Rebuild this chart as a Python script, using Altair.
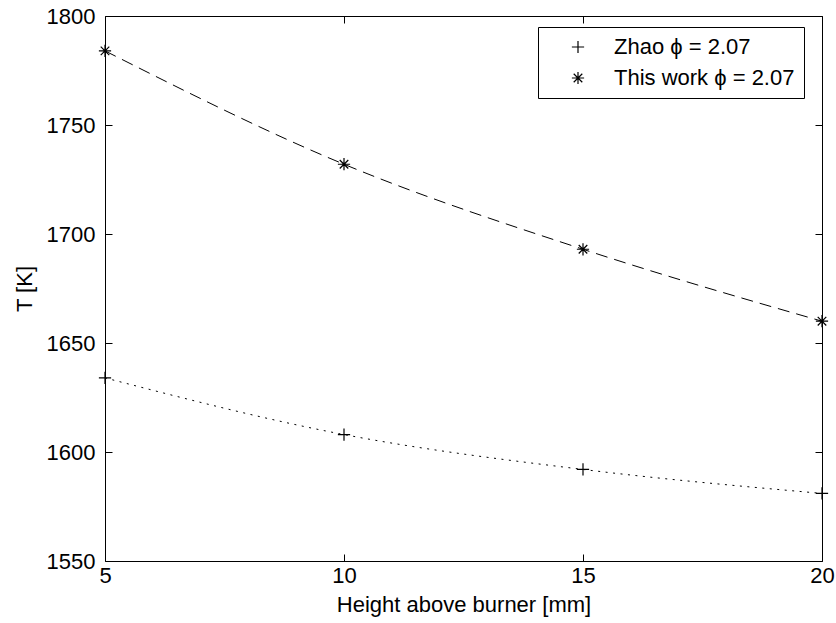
import altair as alt
import pandas as pd

heights = [5, 10, 15, 20]
zhao_T = [1634, 1608, 1592, 1581]
this_T = [1784, 1732, 1693, 1660]
series_names = ["Zhao \u03d5 = 2.07", "This work \u03d5 = 2.07"]

df = pd.DataFrame({
    "h": heights * 2,
    "T": zhao_T + this_T,
    "series": [series_names[0]] * 4 + [series_names[1]] * 4,
})

W, H = 717, 545
FONT = "Liberation Sans"

plus_path = "M-1,0L1,0M0,-1L0,1"
star_path = "M-1,0L1,0M0,-1L0,1M-0.7,-0.7L0.7,0.7M-0.7,0.7L0.7,-0.7"

xscale = alt.Scale(domain=[5, 20], nice=False, zero=False)
yscale = alt.Scale(domain=[1550, 1800], nice=False, zero=False)

xaxis = alt.Axis(values=heights, title="Height above burner [mm]", domain=False, ticks=False,
                 tickSize=0, labelPadding=4, titlePadding=8, grid=True, format="d",
                 gridColor="black", gridDash=[7, H - 14], gridWidth=1, gridOpacity=1,
                 labelFontSize=22, titleFontSize=22, labelColor="black", titleColor="black",
                 labelFont=FONT, titleFont=FONT, titleFontWeight="normal", labelFlush=False)
yaxis = alt.Axis(values=[1550, 1600, 1650, 1700, 1750, 1800], title="T [K]", domain=False,
                 ticks=False, tickSize=0, labelPadding=10, titlePadding=10, grid=True, format="d",
                 gridColor="black", gridDash=[7, W - 14], gridWidth=1, gridOpacity=1,
                 labelFontSize=22, titleFontSize=22, labelColor="black", titleColor="black",
                 labelFont=FONT, titleFont=FONT, titleFontWeight="normal", labelFlush=False)

base = alt.Chart(df)

line_zhao = base.transform_filter(alt.datum.series == series_names[0]).mark_line(
    color="black", strokeWidth=1, interpolate="monotone", strokeDash=[2, 5.5]
).encode(
    x=alt.X("h:Q", scale=xscale, axis=xaxis),
    y=alt.Y("T:Q", scale=yscale, axis=yaxis),
)

line_this = base.transform_filter(alt.datum.series == series_names[1]).mark_line(
    color="black", strokeWidth=1, interpolate="monotone", strokeDash=[12, 7]
).encode(
    x=alt.X("h:Q", scale=xscale),
    y=alt.Y("T:Q", scale=yscale),
)

points = base.mark_point(color="black", filled=False, strokeWidth=1.2, size=150, opacity=1).encode(
    x=alt.X("h:Q", scale=xscale),
    y=alt.Y("T:Q", scale=yscale),
    shape=alt.Shape("series:N", scale=alt.Scale(domain=series_names, range=[plus_path, star_path]),
                    legend=alt.Legend(title=None, orient="none", legendX=433, legendY=11,
                                      padding=9, rowPadding=9, symbolOffset=20, labelOffset=25,
                                      strokeColor="black", fillColor="white", cornerRadius=0,
                                      labelFontSize=22, labelFont=FONT, labelColor="black",
                                      symbolSize=150, symbolStrokeColor="black",
                                      symbolStrokeWidth=1.2, symbolFillColor="transparent",
                                      labelLimit=400)),
)

chart = (line_zhao + line_this + points).properties(
    width=W, height=H,
    autosize=alt.AutoSizeParams(type="none"),
    padding={"left": 105, "top": 16, "right": 14, "bottom": 62},
    background="white",
).configure_view(stroke="black", strokeWidth=1)

chart.save("out.html", embed_options={"renderer": "svg", "actions": False})
